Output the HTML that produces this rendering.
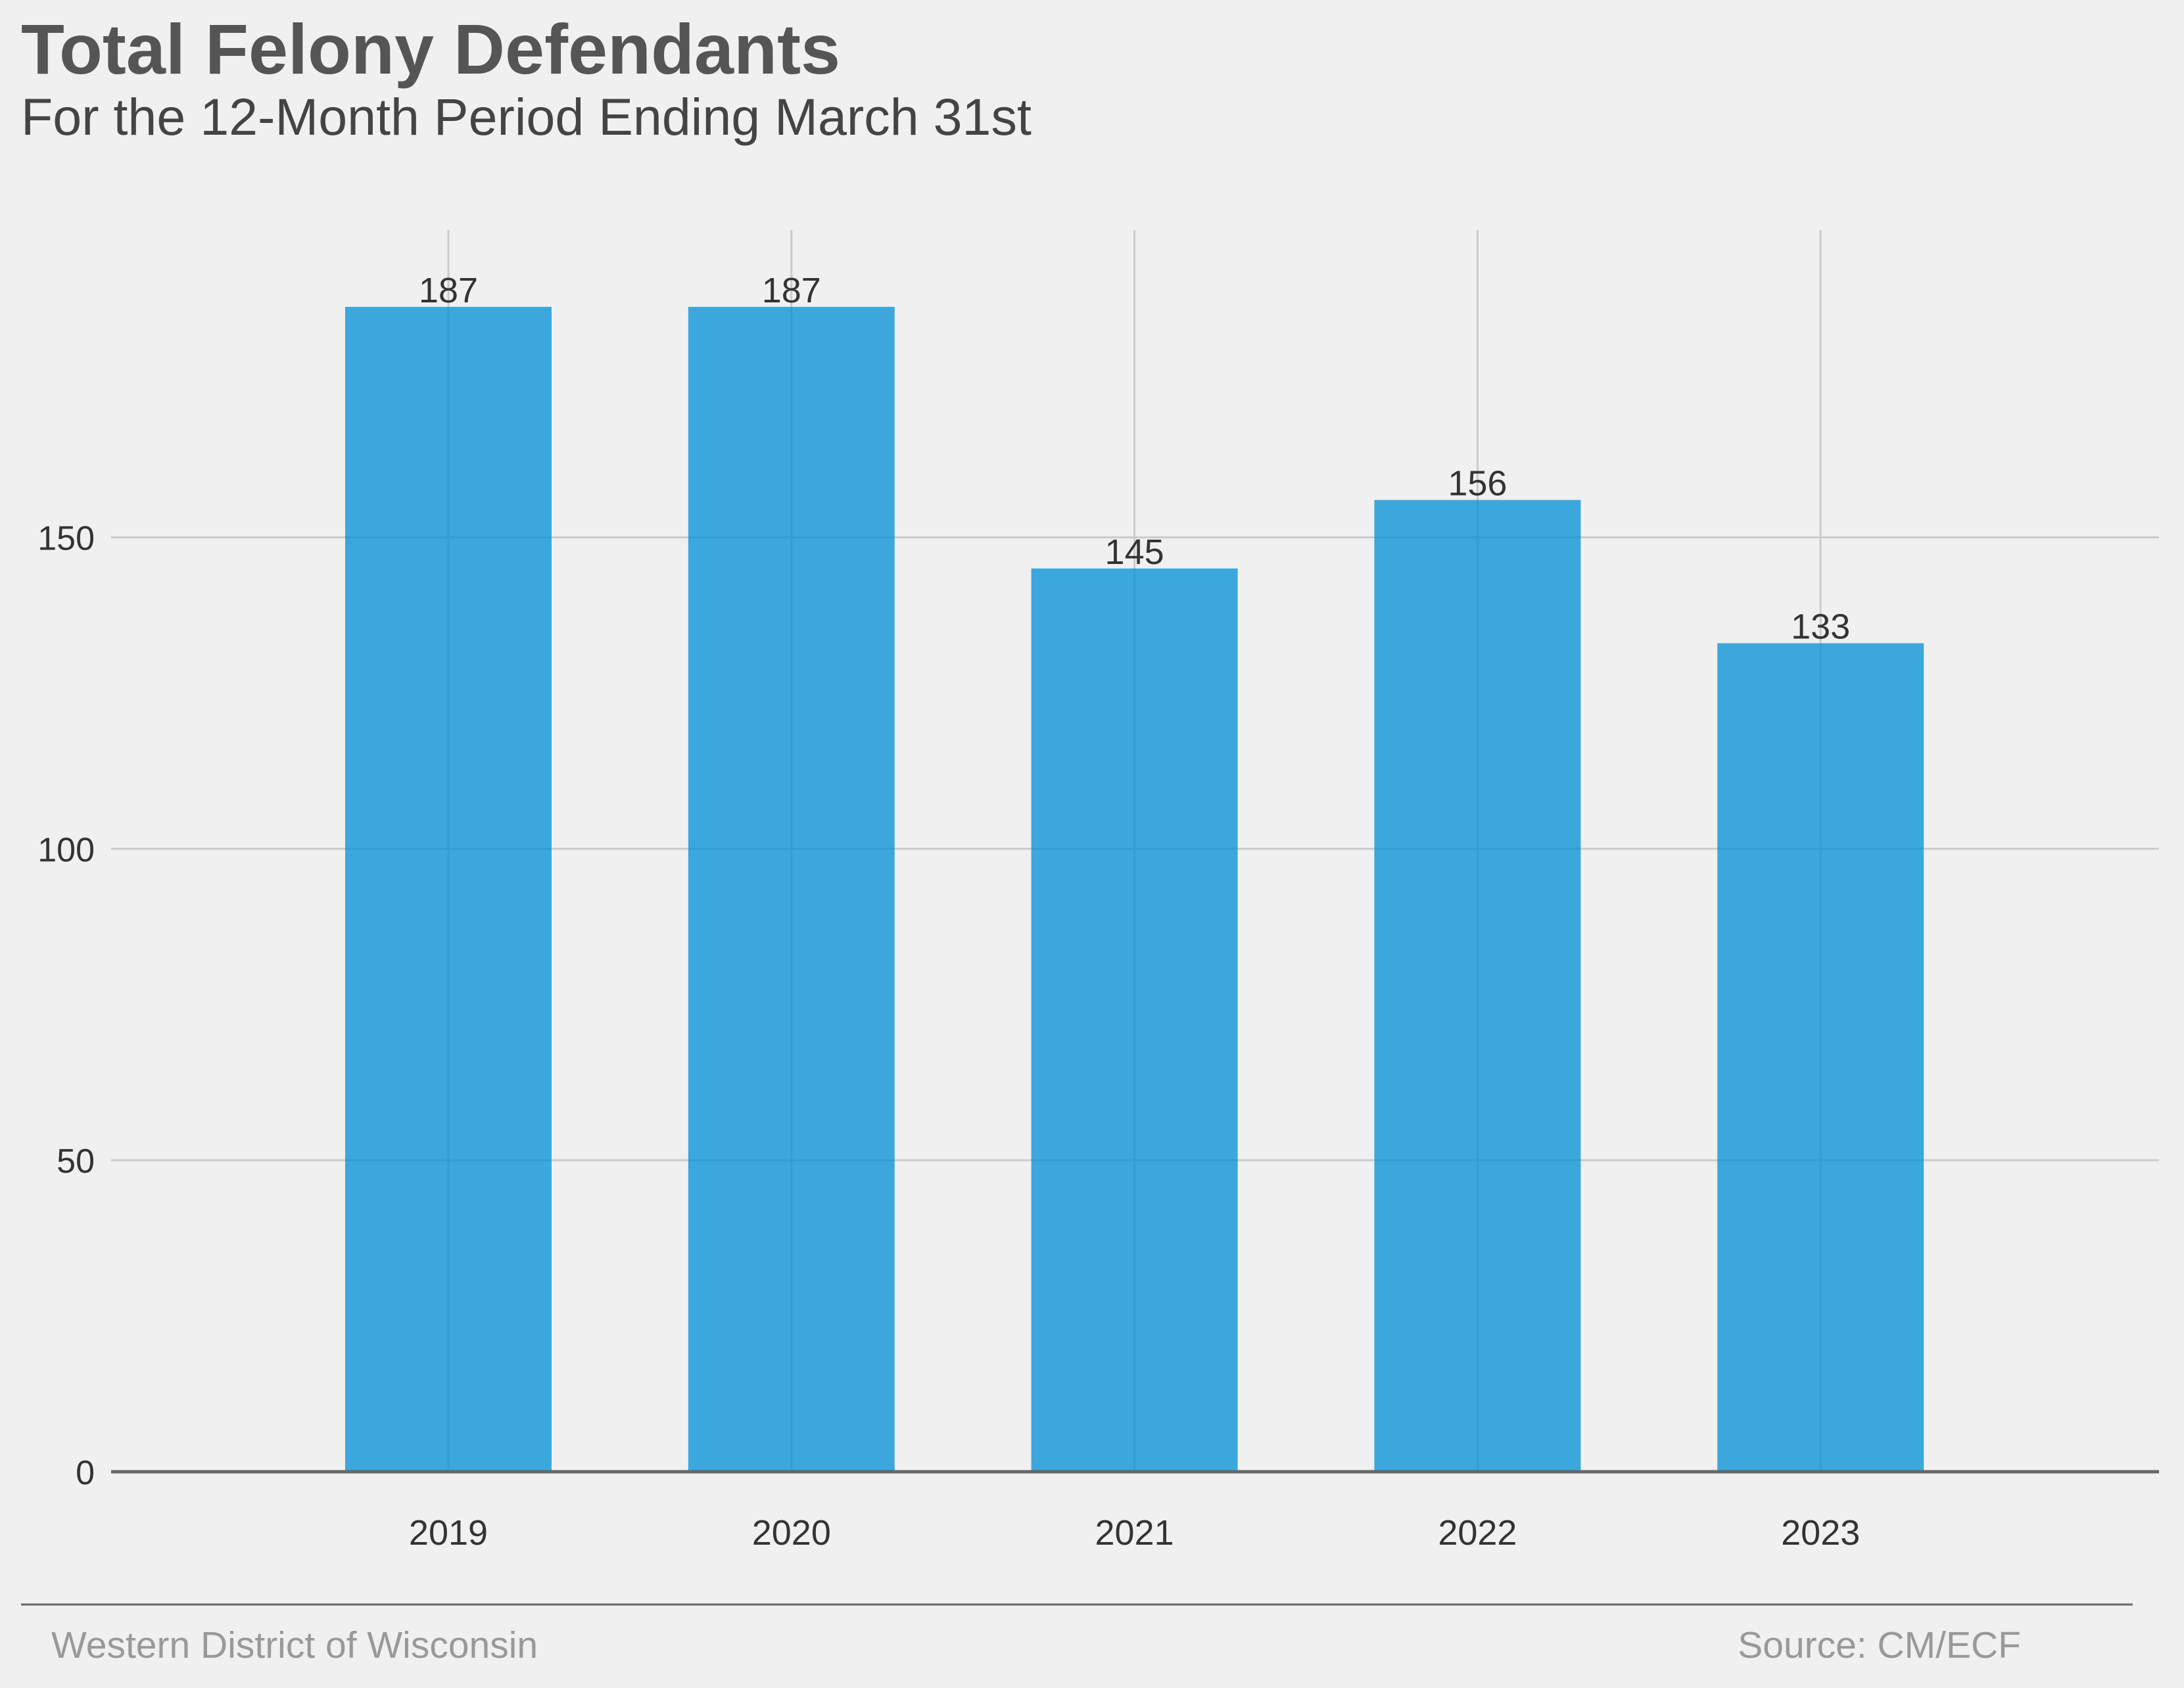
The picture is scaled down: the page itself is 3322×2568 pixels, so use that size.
<!DOCTYPE html>
<html><head><meta charset="utf-8">
<style>
html,body{margin:0;padding:0;background:#f0f0f0;}
svg{display:block;font-family:"Liberation Sans",Arial,sans-serif;}
</style></head>
<body>
<svg id="chart" width="3322" height="2568" viewBox="0 0 3322 2568" xmlns="http://www.w3.org/2000/svg">
<rect width="3322" height="2568" fill="#f0f0f0"/>
<text x="32" y="112" font-size="108" font-weight="bold" fill="#555">Total Felony Defendants</text>
<text x="32" y="205" font-size="79" fill="#444">For the 12-Month Period Ending March 31st</text>
<g id="grid"></g>
<g id="bars"></g>
<g id="labels"></g>
<g id="axes"></g>
<line x1="32" y1="2441" x2="3244" y2="2441" stroke="#666" stroke-width="3"/>
<text x="78" y="2522" font-size="57" fill="#999">Western District of Wisconsin</text>
<text x="3074" y="2522" font-size="57" fill="#999" text-anchor="end">Source: CM/ECF</text>
</svg>
<script>
const categories = ["2019","2020","2021","2022","2023"];
const values = [187,187,145,156,133];
const yTicks = [0,50,100,150];

const NS="http://www.w3.org/2000/svg";
const plotL=169, plotR=3284, plotT=350, zeroY=2239, pxPerUnit=9.477;
const x0=682, step=521.8, barW=314;
function xScale(i){return x0+i*step;}
function yScale(v){return zeroY-v*pxPerUnit;}
function mk(tag,attrs,parent){const e=document.createElementNS(NS,tag);for(const k in attrs)e.setAttribute(k,attrs[k]);parent.appendChild(e);return e;}
const grid=document.getElementById('grid'),bars=document.getElementById('bars'),labels=document.getElementById('labels'),axes=document.getElementById('axes');
yTicks.forEach(t=>{
  if(t!==0){const l=mk('line',{x1:plotL,x2:plotR,y1:yScale(t),y2:yScale(t),stroke:'#cbcbcb','stroke-width':3},grid);
  
  }
  const tx=mk('text',{x:144,y:yScale(t)+19,'font-size':52,fill:'#333','text-anchor':'end'},axes);
  tx.textContent=t;
  
  
});
categories.forEach((c,i)=>{
  const x=xScale(i);
  const g=mk('line',{x1:x,x2:x,y1:plotT,y2:zeroY,stroke:'#cbcbcb','stroke-width':3},grid);
  
  
  const b=mk('rect',{x:x-barW/2,y:yScale(values[i]),width:barW,height:zeroY-yScale(values[i]),fill:'#008fd5','fill-opacity':0.75},bars);
  
  
  const v=mk('text',{x:x,y:yScale(values[i])-7,'font-size':54,fill:'#333','text-anchor':'middle'},labels);
  v.textContent=values[i];
  
  
  const t=mk('text',{x:x,y:2350,'font-size':54,fill:'#333','text-anchor':'middle'},axes);
  t.textContent=c;
  
  
});
const base=mk('line',{x1:plotL,x2:plotR,y1:zeroY,y2:zeroY,stroke:'#666','stroke-width':5},axes);


</script>
</body></html>
